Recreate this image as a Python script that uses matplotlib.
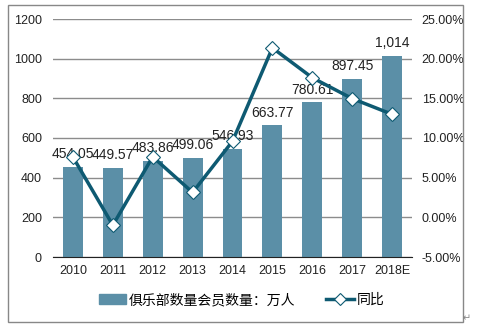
import matplotlib.pyplot as plt
import numpy as np
from matplotlib.patches import Rectangle
from matplotlib.lines import Line2D

plt.rcParams['font.family'] = ['Liberation Sans', 'Noto Sans CJK SC', 'DejaVu Sans']

years = ["2010", "2011", "2012", "2013", "2014", "2015", "2016", "2017", "2018E"]
members = [454.05, 449.57, 483.86, 499.06, 546.93, 663.77, 780.61, 897.45, 1014]
member_labels = ["454.05", "449.57", "483.86", "499.06", "546.93", "663.77", "780.61", "897.45", "1,014"]
growth = [7.6, -0.99, 7.63, 3.14, 9.59, 21.36, 17.60, 14.97, 12.99]

bar_color = "#5b8fa7"
line_color = "#0e5a72"

W, H = 483, 331
fig = plt.figure(figsize=(W / 100, H / 100), dpi=100)
ax = fig.add_axes([53 / W, 1 - 257 / H, (412 - 53) / W, (257 - 19) / H])
x = np.arange(len(years))

ax.bar(x, members, width=0.5, color=bar_color, zorder=2)
for xi, v, lab in zip(x, members, member_labels):
    ax.annotate(lab, (xi, v), xytext=(0, 4), textcoords="offset points",
                ha="center", va="bottom", fontsize=10, color="#222222", zorder=5)

ax.set_xlim(-0.5, len(years) - 0.5)
ax.set_ylim(0, 1200)
ax.set_yticks(range(0, 1201, 200))
ax.set_xticks(x)
ax.set_xticklabels(years)
ax.grid(axis="y", color="#8c8c8c", linewidth=1, zorder=0)
for s in ["top", "left", "right"]:
    ax.spines[s].set_visible(False)
ax.spines["bottom"].set_color("#222222")
ax.tick_params(length=0, labelsize=9, colors="#222222", pad=6)
ax.tick_params(axis="y", pad=8)

ax2 = ax.twinx()
ax2.plot(x, growth, color=line_color, linewidth=2.5, marker="D", markersize=7,
         markerfacecolor="white", markeredgecolor=line_color, markeredgewidth=0.8, zorder=4)
ax2.set_ylim(-5, 25)
ax2.set_yticks(np.arange(-5, 25.1, 5))
ax2.set_yticklabels(["%.2f%%" % v for v in np.arange(-5, 25.1, 5)])
for s in ["top", "left", "right", "bottom"]:
    ax2.spines[s].set_visible(False)
ax2.tick_params(length=0, labelsize=9, colors="#222222", pad=7)

handles = [Rectangle((0, 0), 1, 1, color=bar_color),
           Line2D([], [], color=line_color, linewidth=2.5, marker="D", markersize=6,
                  markerfacecolor="white", markeredgecolor=line_color, markeredgewidth=0.8)]
fig.legend(handles, ["俱乐部数量会员数量：万人", "同比"], loc="center",
           bbox_to_anchor=(0.5, 1 - 300 / H), ncol=2, frameon=False,
           fontsize=10, handlelength=2.0, columnspacing=2.2, handletextpad=0.2)

fig.patches.append(Rectangle((8 / W, 1 - 322 / H), (463 - 8) / W, (322 - 5) / H,
                             transform=fig.transFigure, fill=False,
                             edgecolor="#888888", linewidth=1))
fig.text(467 / W, 1 - 318 / H, "↵", fontsize=7, color="#888888", ha="center", va="center",
         family="DejaVu Sans")

fig.savefig("out.png", dpi=100)
